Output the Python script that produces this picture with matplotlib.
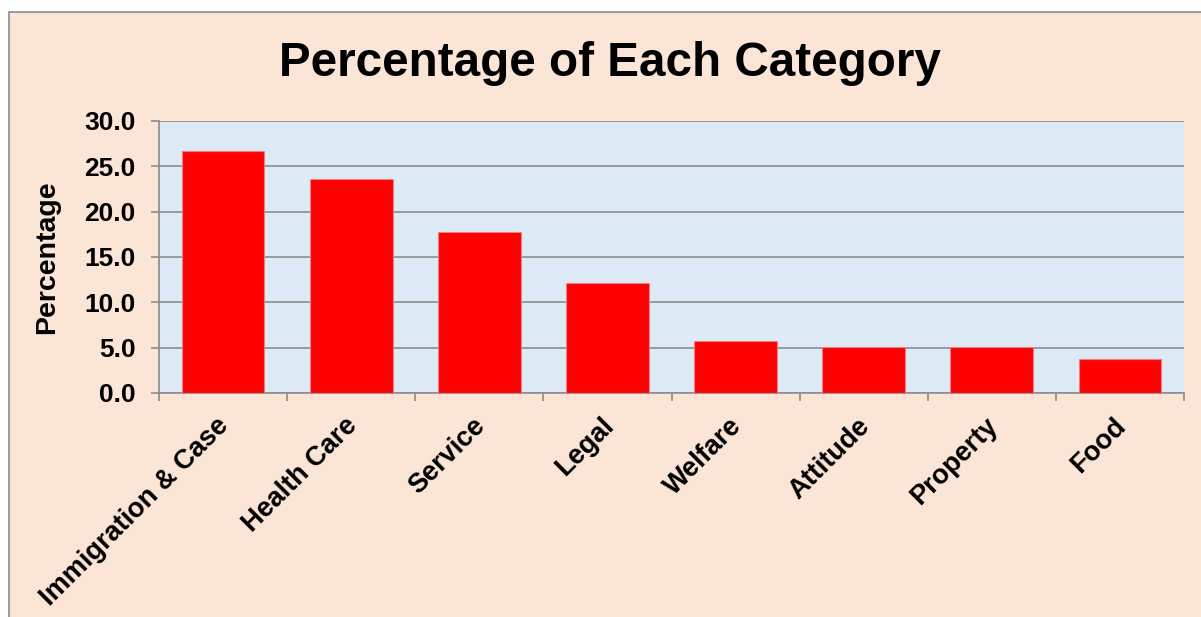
import numpy as np
import matplotlib.pyplot as plt
from matplotlib.patches import Rectangle
from matplotlib.transforms import ScaledTranslation
from matplotlib.ticker import FixedLocator, FormatStrFormatter, NullFormatter

categories = ['Immigration & Case', 'Health Care', 'Service', 'Legal',
              'Welfare', 'Attitude', 'Property', 'Food']
percentages = [26.7, 23.6, 17.8, 12.1, 5.7, 5.1, 5.1, 3.8]
yticks = [0, 5, 10, 15, 20, 25, 30]

plt.rcParams['font.family'] = ['Liberation Sans', 'DejaVu Sans']

fig = plt.figure(figsize=(12.01, 6.17), dpi=100)
fig.patch.set_facecolor('white')

# outer chart frame
frame = Rectangle((9 / 1201, -0.05), 1.1, 1 - 12 / 617 + 0.05,
                  transform=fig.transFigure, facecolor='#FBE5D6',
                  edgecolor='#8C8C8C', linewidth=1.2, zorder=-10)
fig.patches.append(frame)

ax = fig.add_axes([159 / 1201, 1 - 393 / 617, (1184 - 159) / 1201, (393 - 121) / 617])
ax.set_zorder(5)
ax.set_facecolor('#DEEBF7')

x = np.arange(len(categories))
ax.bar(x, percentages, width=0.645, color='#FF0000', edgecolor='#F08080',
       linewidth=0.8, zorder=3)

ax.set_xlim(-0.5, len(categories) - 0.5)
ax.set_ylim(0, 30)
ax.set_yticks(yticks)
ax.yaxis.set_major_formatter(FormatStrFormatter('%.1f'))
ax.grid(axis='y', color='#8C8C8C', linewidth=1.2, zorder=1)
ax.set_axisbelow(True)

# category labels, rotated, hung just below the axis
ax.set_xticks(x)
ax.xaxis.set_major_formatter(NullFormatter())
lab_tr = ax.get_xaxis_transform() + ScaledTranslation(-0.07, -0.20, fig.dpi_scale_trans)
for xi, name in zip(x, categories):
    ax.text(xi, 0, name, transform=lab_tr, rotation=45, ha='right', va='top',
            rotation_mode='anchor', fontsize=19.5, fontweight='bold', clip_on=False)

ax.xaxis.set_minor_locator(FixedLocator(np.arange(len(categories) + 1) - 0.5))
ax.tick_params(axis='x', which='major', length=0)
ax.tick_params(axis='x', which='minor', length=5.5, color='#8C8C8C', width=1.2)
ax.tick_params(axis='y', length=6, color='#8C8C8C', width=1.2, labelsize=19, pad=11)
for lbl in ax.get_yticklabels():
    lbl.set_fontweight('bold')

for side in ['top', 'right']:
    ax.spines[side].set_visible(False)
for side in ['left', 'bottom']:
    ax.spines[side].set_color('#8C8C8C')
    ax.spines[side].set_linewidth(1.2)

fig.text(47 / 1201, 1 - 257 / 617, 'Percentage', rotation=90, ha='center', va='center',
         fontsize=20.5, fontweight='bold')
fig.text(0.508, 1 - 64 / 617, 'Percentage of Each Category', ha='center', va='center',
         fontsize=34.3, fontweight='bold')

fig.savefig('out.png', dpi=100)
